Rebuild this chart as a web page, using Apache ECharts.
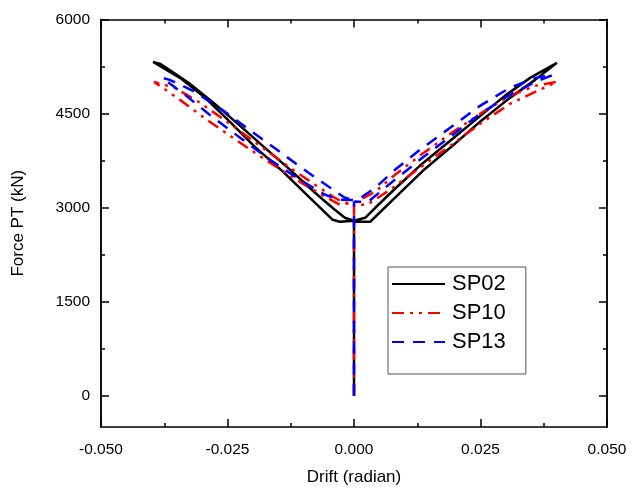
<!DOCTYPE html>
<html>
<head>
<meta charset="utf-8">
<script src="https://cdn.jsdelivr.net/npm/echarts@6/dist/echarts.min.js"></script>
<style>html,body{margin:0;padding:0;background:#fff}#c{width:634px;height:492px}</style>
</head>
<body>
<div id="c"></div>
<script>
// ---- data ----
var seriesNames = ['SP02', 'SP10', 'SP13'];
var xTickValues = [-0.05, -0.025, 0, 0.025, 0.05];
var yTickValues = [0, 1500, 3000, 4500, 6000];
var yMinorTickValues = [750, 2250, 3750, 5250];

var sp02Drift = [0, 0, 0.0032, 0.0091, 0.0136, 0.0190, 0.0249, 0.0308, 0.0358, 0.0401,
  0.0348, 0.0298, 0.0245, 0.0190, 0.0130, 0.0081, 0.0042, 0.0022, 0, -0.0028,
  -0.0042, -0.0087, -0.0140, -0.0196, -0.0245, -0.0294, -0.0344, -0.0397,
  -0.0383, -0.0324, -0.0275, -0.0225, -0.0176, -0.0126, -0.0077, -0.0038, -0.0018, 0];
var sp02Force = [0, 2774, 2774, 3236, 3587, 3953, 4368, 4750, 5037, 5308,
  5069, 4782, 4431, 4065, 3666, 3300, 2997, 2837, 2790, 2774,
  2805, 3156, 3571, 3969, 4368, 4750, 5069, 5324,
  5292, 4973, 4654, 4304, 3953, 3602, 3236, 2965, 2837, 2790];

var sp10Drift = [0, 0, 0.0026, 0.0071, 0.0130, 0.0190, 0.0249, 0.0308, 0.0358, 0.0401,
  0.0358, 0.0308, 0.0249, 0.0190, 0.0130, 0.0081, 0.0042, 0.0012, 0, -0.0028,
  -0.0057, -0.0107, -0.0166, -0.0225, -0.0285, -0.0344, -0.0395,
  -0.0354, -0.0304, -0.0245, -0.0186, -0.0126, -0.0077, -0.0038, -0.0018, 0];
var sp10Force = [0, 3045, 3045, 3284, 3634, 3985, 4336, 4654, 4846, 5005,
  4941, 4782, 4495, 4176, 3826, 3523, 3252, 3124, 3080, 3045,
  3172, 3411, 3714, 4033, 4368, 4718, 5005,
  4910, 4670, 4336, 3985, 3634, 3363, 3156, 3076, 3060];

var sp13Drift = [0, 0, 0.0028, 0.0071, 0.0130, 0.0190, 0.0249, 0.0308, 0.0358, 0.0393,
  0.0358, 0.0308, 0.0249, 0.0190, 0.0130, 0.0081, 0.0042, 0.0016, 0, -0.0028,
  -0.0057, -0.0107, -0.0166, -0.0225, -0.0285, -0.0334, -0.0379,
  -0.0364, -0.0314, -0.0255, -0.0196, -0.0136, -0.0087, -0.0047, -0.0018, 0];
var sp13Force = [0, 3092, 3092, 3379, 3762, 4128, 4495, 4798, 5005, 5117,
  5069, 4910, 4623, 4272, 3921, 3602, 3316, 3172, 3120, 3124,
  3204, 3443, 3762, 4113, 4479, 4798, 5069,
  5037, 4846, 4527, 4176, 3826, 3539, 3316, 3156, 3120];

// ---- chart ----
function zip(a, b) { return a.map(function (v, i) { return [v, b[i]]; }); }
var FONT = '"Liberation Sans", Arial, sans-serif';
var axisLineStyle = { color: '#000', width: 1.5 };

function yAxisBase(pos, ticks, len, labels) {
  return {
    type: 'value', position: pos, min: -500, max: 6000,
    axisLine: { show: true, onZero: false, lineStyle: axisLineStyle },
    splitLine: { show: false },
    axisTick: { show: true, inside: true, length: len, customValues: ticks, lineStyle: { color: '#000', width: 1.5 } },
    axisLabel: labels ? { show: true, customValues: ticks, margin: 11, color: '#000', fontSize: 15.5, fontFamily: FONT,
      formatter: function (v) { return String(v); } } : { show: false }
  };
}

var chart = echarts.init(document.getElementById('c'), null, { renderer: 'canvas' });
var yLeft = yAxisBase('left', yTickValues, 8, true);
yLeft.name = 'Force PT (kN)';
yLeft.nameLocation = 'middle';
yLeft.nameGap = 74;
yLeft.nameTextStyle = { fontSize: 17, color: '#000', fontFamily: FONT };

function xAxisBase(pos, labels) {
  return {
    type: 'value', position: pos, min: -0.05, max: 0.05, interval: 0.025,
    axisLine: { show: true, onZero: false, lineStyle: axisLineStyle },
    splitLine: { show: false },
    axisTick: { show: true, inside: true, length: 8, lineStyle: { color: '#000', width: 1.5 } },
    minorTick: { show: true, splitNumber: 2, length: 4, lineStyle: { color: '#000', width: 1.5 } },
    axisLabel: labels ? { show: true, margin: 15, color: '#000', fontSize: 15.5, fontFamily: FONT,
      formatter: function (v) { return v.toFixed(3); } } : { show: false }
  };
}
var xBottom = xAxisBase('bottom', true);
xBottom.name = 'Drift (radian)';
xBottom.nameLocation = 'middle';
xBottom.nameGap = 42;
xBottom.nameTextStyle = { fontSize: 17, color: '#000', fontFamily: FONT };

var option = {
  backgroundColor: '#fff',
  animation: false,
  grid: { left: 101, right: 27, top: 19.5, bottom: 65, containLabel: false },
  xAxis: [xBottom, xAxisBase('top', false)],
  yAxis: [
    yLeft,
    yAxisBase('left', yMinorTickValues, 4, false),
    yAxisBase('right', yTickValues, 8, false),
    yAxisBase('right', yMinorTickValues, 4, false)
  ],
  legend: {
    data: seriesNames,
    orient: 'vertical',
    left: 388, top: 267,
    padding: [6, 20, 21, 3],
    itemWidth: 53, itemHeight: 20, itemGap: 7,
    borderColor: '#555', borderWidth: 1, backgroundColor: '#fff',
    itemStyle: { opacity: 0 },
    textStyle: { fontSize: 22, color: '#000', fontFamily: FONT, padding: [0, 0, 0, 2] }
  },
  series: [
    { name: seriesNames[0], type: 'line', data: zip(sp02Drift, sp02Force), symbol: 'none',
      lineStyle: { color: '#000', width: 2.5, type: 'solid' }, itemStyle: { color: '#000' } },
    { name: seriesNames[1], type: 'line', data: zip(sp10Drift, sp10Force), symbol: 'none',
      lineStyle: { color: '#ff0000', width: 2.5, type: [12, 6, 3, 6, 3, 6] }, itemStyle: { color: '#ff0000' } },
    { name: seriesNames[2], type: 'line', data: zip(sp13Drift, sp13Force), symbol: 'none',
      lineStyle: { color: '#0000ff', width: 2.5, type: [12, 9] }, itemStyle: { color: '#0000ff' } }
  ]
};
chart.setOption(option);
</script>
</body>
</html>
